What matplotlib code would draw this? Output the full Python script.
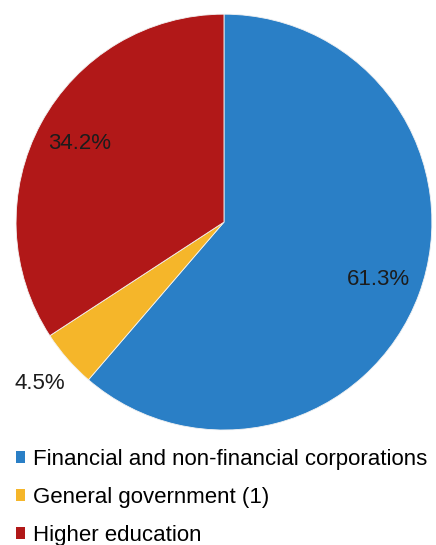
import matplotlib
matplotlib.use("Agg")
import numpy as np
import matplotlib.pyplot as plt
from matplotlib.patches import Patch

# datos del grafico
sectores = ['Financial and non-financial corporations', 'General government (1)', 'Higher education']
porcentajes = [61.3, 4.5, 34.2]
colores = ['#2A7FC6', '#F5B62A', '#B11818']

plt.rcParams['font.family'] = ['Liberation Sans', 'DejaVu Sans']

fig = plt.figure(figsize=(4.36, 5.45), dpi=100)
ax = fig.add_axes([0.0367, 0.211, 0.954, 0.763])

wedges, _ = ax.pie(porcentajes, colors=colores, startangle=90, counterclock=False,
                   radius=1, wedgeprops=dict(edgecolor='#f2f2f2', linewidth=0.6))
ax.set_xlim(-1, 1)
ax.set_ylim(-1, 1)
ax.set_aspect('equal')
ax.axis('off')

# etiquetas de porcentaje, la pequena va por fuera
distancias = [0.79, 1.18, 0.79]
for w, p, d in zip(wedges, porcentajes, distancias):
    ang = np.deg2rad((w.theta1 + w.theta2) / 2)
    ax.text(d * np.cos(ang), d * np.sin(ang), f'{p:.1f}%', ha='center', va='center',
            fontsize=16, color='#1c1c1c', clip_on=False)

# leyenda debajo del pie
handles = [Patch(facecolor=c, edgecolor='none') for c in colores]
fig.legend(handles, sectores, loc='upper left', bbox_to_anchor=(16 / 436, 1 - 449 / 545),
           frameon=False, fontsize=16, borderpad=0, borderaxespad=0,
           handlelength=0.41, handleheight=0.41, handletextpad=0.36, labelspacing=0.76)

fig.savefig('out.png', dpi=100)
